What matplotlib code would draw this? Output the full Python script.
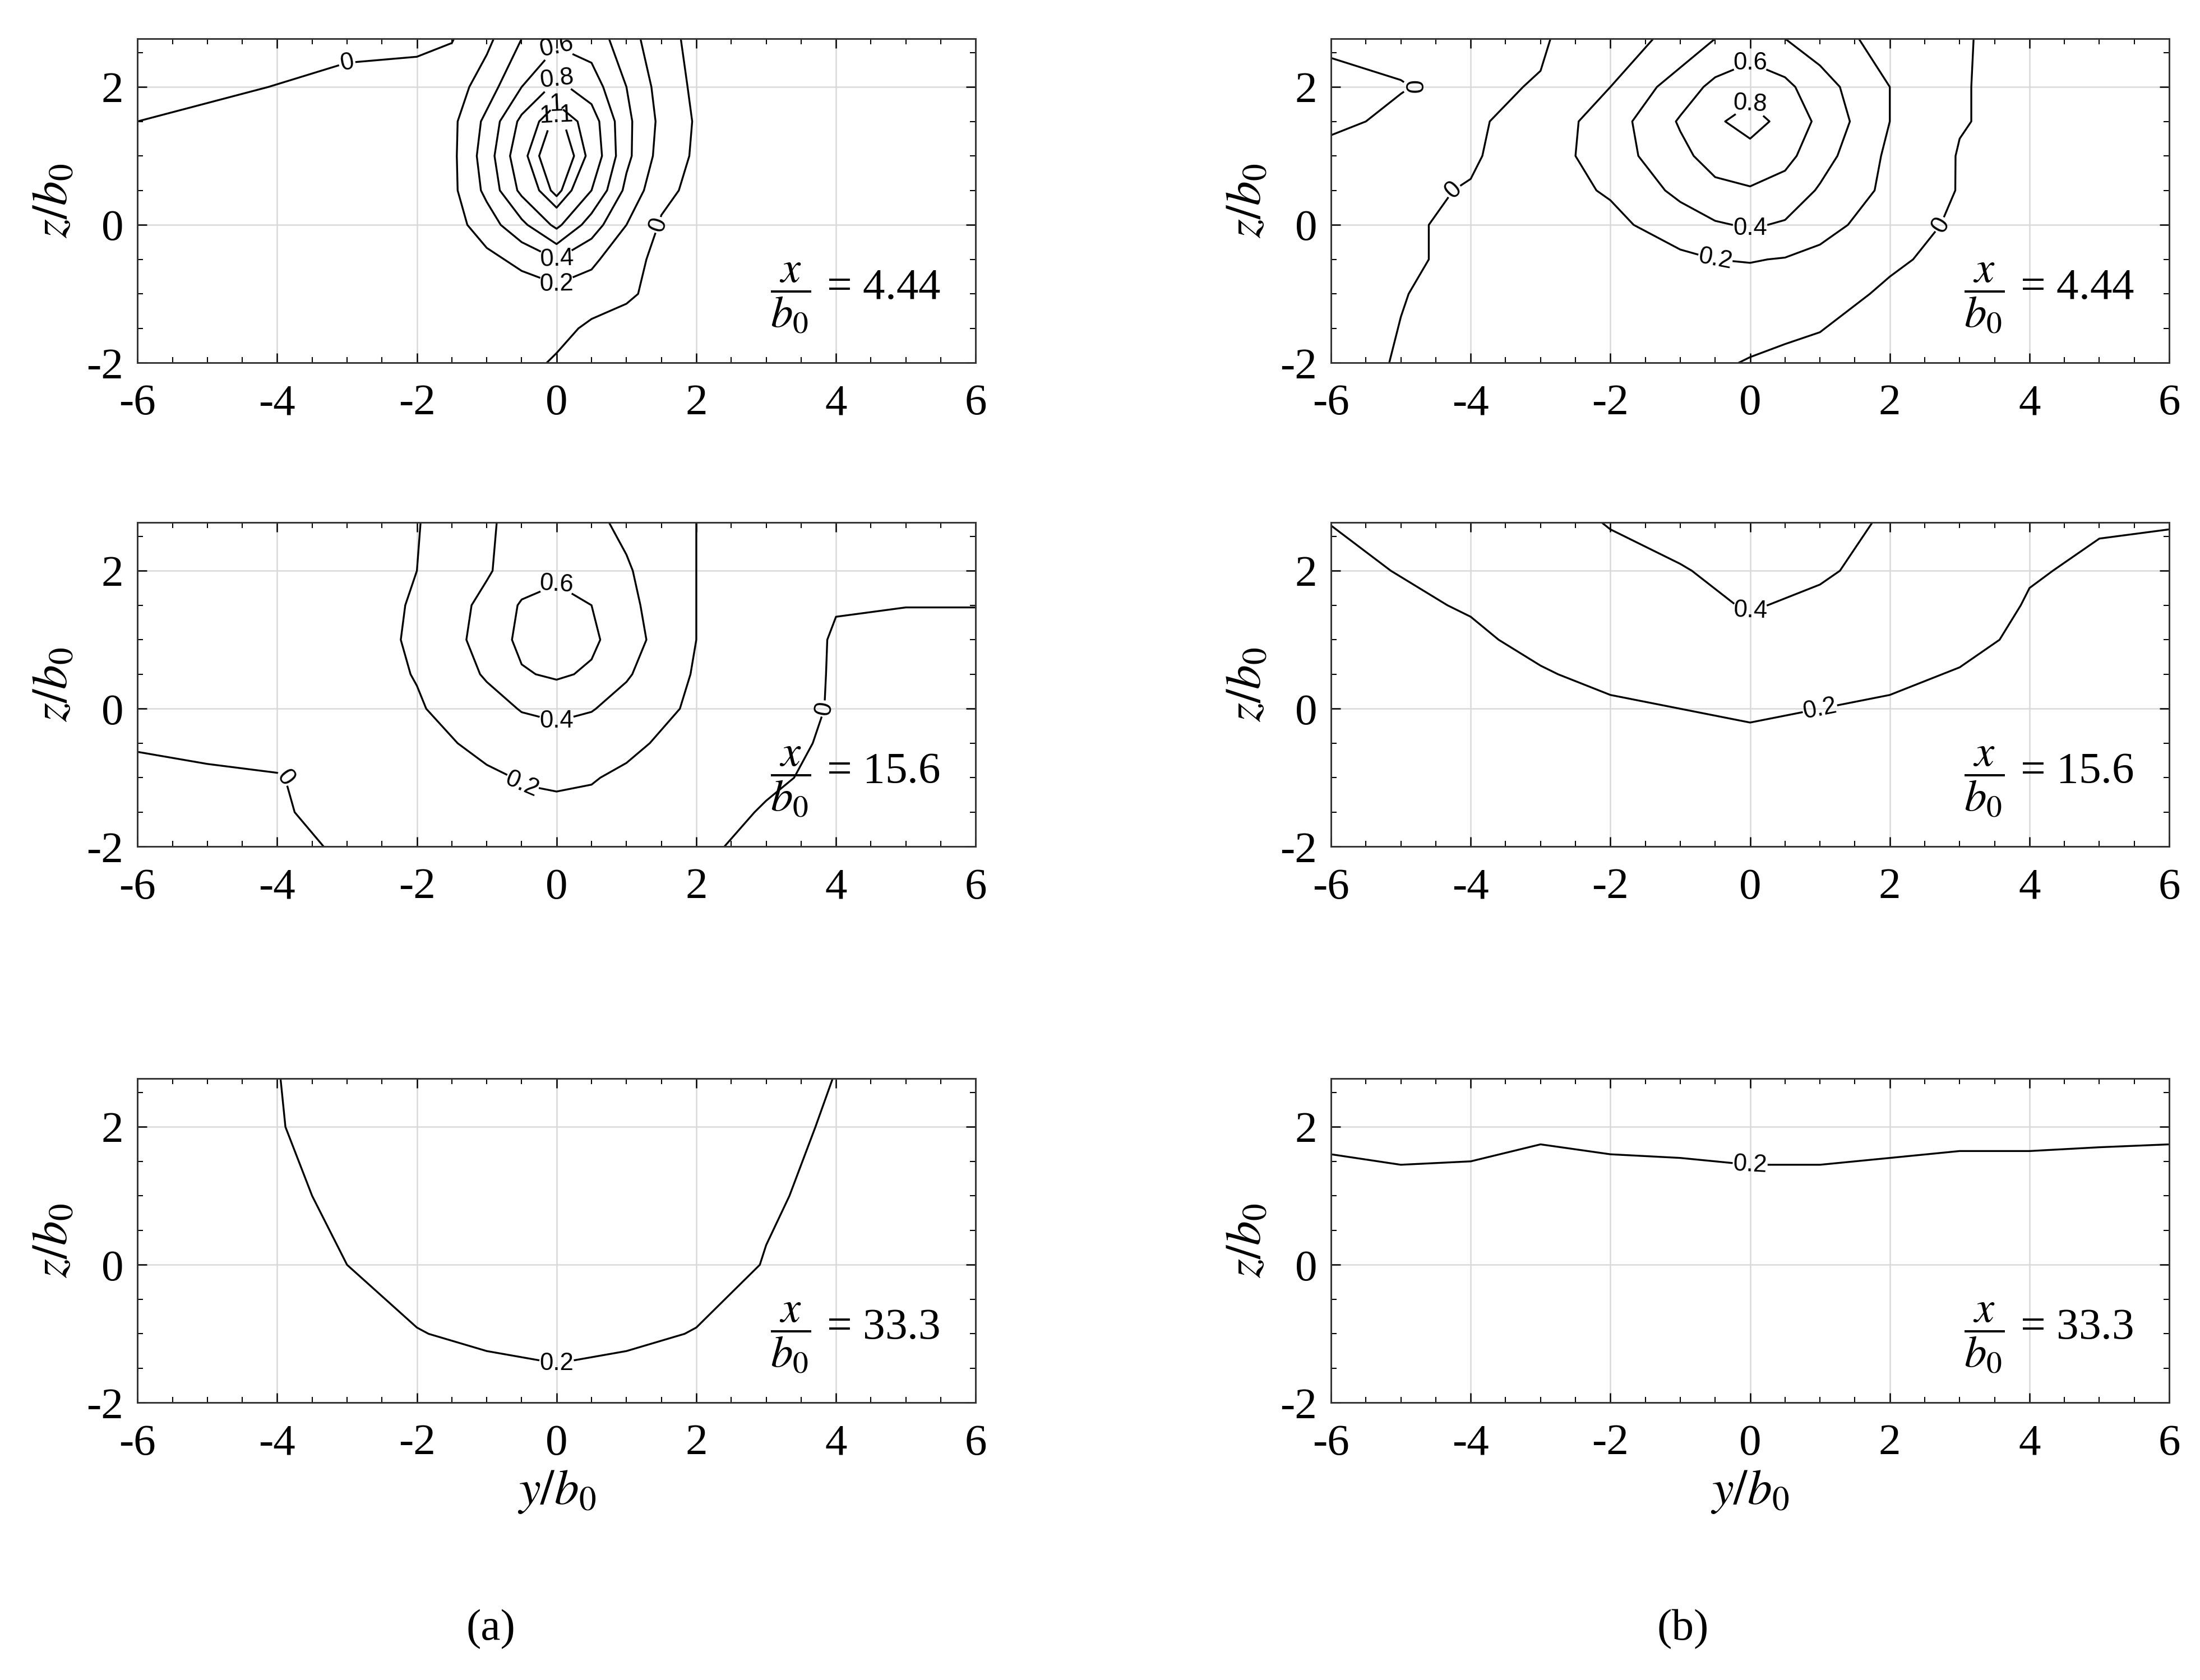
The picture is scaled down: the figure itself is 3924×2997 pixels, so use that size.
import numpy as np
import matplotlib
matplotlib.use("Agg")
from matplotlib import pyplot as plt
from matplotlib.ticker import MultipleLocator

plt.rcParams["font.family"] = "Liberation Serif"
plt.rcParams["mathtext.fontset"] = "stix"
plt.rcParams["axes.unicode_minus"] = False

# ---- data (coarse grids, rows = z from bottom up) ----
# (a) x/b0 = 4.44
y_a1 = [-6, -3, -2, -1.5, -1, -0.5, 0, 0.5, 1, 1.5, 2, 4, 6]
z_a1 = [-2, -1.5, -1, -0.5, 0, 0.5, 1, 1.5, 2, 2.7]
v_a1 = [
    [0.05, 0.05, 0.05, 0.05, 0.05, 0.05, -0.02, -0.05, -0.05, -0.05, -0.05, -0.05, -0.05],
    [0.05, 0.05, 0.05, 0.06, 0.08, 0.10, 0.05, -0.03, -0.05, -0.05, -0.05, -0.05, -0.05],
    [0.05, 0.05, 0.05, 0.06, 0.08, 0.10, 0.12, 0.08, 0.02, -0.04, -0.05, -0.05, -0.05],
    [0.05, 0.05, 0.05, 0.08, 0.15, 0.25, 0.40, 0.25, 0.04, -0.03, -0.05, -0.05, -0.05],
    [0.05, 0.05, 0.06, 0.12, 0.30, 0.55, 0.85, 0.50, 0.20, -0.02, -0.05, -0.05, -0.05],
    [0.05, 0.05, 0.07, 0.15, 0.45, 0.85, 1.15, 0.80, 0.35, 0.05, -0.05, -0.05, -0.05],
    [0.05, 0.05, 0.07, 0.15, 0.50, 0.95, 1.25, 0.95, 0.45, 0.12, -0.03, -0.05, -0.05],
    [0.00, 0.05, 0.07, 0.15, 0.45, 0.85, 1.15, 0.90, 0.45, 0.15, -0.02, -0.05, -0.05],
    [-0.05, 0.03, 0.05, 0.10, 0.30, 0.60, 0.85, 0.70, 0.40, 0.12, -0.04, -0.05, -0.05],
    [-0.05, -0.03, -0.03, -0.01, 0.15, 0.40, 0.55, 0.50, 0.30, 0.05, -0.04, -0.05, -0.05],
]

# (b) x/b0 = 4.44
y_b1 = [-6, -5, -4, -3, -2, -1, -0.5, 0, 0.5, 1, 2, 3, 4, 5, 6]
z_b1 = [-2, -1, -0.5, 0, 0.5, 1, 1.5, 2, 2.7]
v_b1 = [
    [-0.05, 0.01, 0.04, 0.05, 0.05, 0.04, 0.02, -0.01, -0.03, -0.04, -0.05, -0.05, -0.05, -0.05, -0.05],
    [-0.05, -0.005, 0.04, 0.06, 0.08, 0.10, 0.11, 0.11, 0.08, 0.05, -0.02, -0.05, -0.05, -0.05, -0.05],
    [-0.05, -0.02, 0.03, 0.06, 0.10, 0.16, 0.20, 0.21, 0.19, 0.14, 0.02, -0.04, -0.05, -0.05, -0.05],
    [-0.05, -0.02, 0.03, 0.08, 0.15, 0.30, 0.38, 0.42, 0.38, 0.28, 0.08, -0.03, -0.05, -0.05, -0.05],
    [-0.05, -0.03, 0.01, 0.12, 0.22, 0.45, 0.55, 0.58, 0.52, 0.38, 0.15, -0.01, -0.05, -0.05, -0.05],
    [-0.03, -0.04, -0.02, 0.10, 0.30, 0.55, 0.68, 0.75, 0.66, 0.48, 0.16, -0.01, -0.05, -0.05, -0.05],
    [0.02, -0.02, -0.03, 0.08, 0.30, 0.62, 0.78, 0.85, 0.76, 0.55, 0.20, 0.01, -0.05, -0.05, -0.05],
    [0.03, 0.005, -0.03, 0.01, 0.20, 0.50, 0.65, 0.75, 0.65, 0.48, 0.20, 0.01, -0.05, -0.05, -0.05],
    [-0.02, -0.03, -0.03, -0.02, 0.12, 0.25, 0.40, 0.45, 0.40, 0.30, 0.12, 0.01, -0.04, -0.05, -0.05],
]

# (a) x/b0 = 15.6
y_a2 = [-6, -5, -4, -3, -2, -1, -0.5, 0, 0.5, 1, 2, 3, 4, 5, 6]
z_a2 = [-2, -1.5, -1, -0.5, 0, 0.5, 1, 1.5, 2, 2.7]
v_a2 = [
    [-0.05, -0.04, -0.02, 0.01, 0.05, 0.10, 0.12, 0.13, 0.12, 0.10, 0.02, -0.03, -0.05, -0.05, -0.05],
    [-0.04, -0.03, -0.01, 0.03, 0.07, 0.13, 0.16, 0.17, 0.16, 0.13, 0.05, -0.01, -0.04, -0.05, -0.05],
    [-0.03, -0.01, -0.005, 0.04, 0.10, 0.17, 0.21, 0.22, 0.21, 0.17, 0.08, 0.02, -0.03, -0.04, -0.05],
    [0.01, 0.015, 0.03, 0.06, 0.13, 0.25, 0.31, 0.33, 0.30, 0.24, 0.12, 0.04, -0.02, -0.04, -0.05],
    [0.02, 0.03, 0.05, 0.09, 0.18, 0.33, 0.41, 0.44, 0.41, 0.33, 0.16, 0.05, -0.01, -0.03, -0.04],
    [0.02, 0.03, 0.06, 0.10, 0.21, 0.42, 0.58, 0.63, 0.57, 0.42, 0.18, 0.06, -0.01, -0.02, -0.03],
    [0.02, 0.03, 0.06, 0.10, 0.23, 0.47, 0.65, 0.70, 0.64, 0.48, 0.20, 0.07, -0.01, -0.03, -0.03],
    [0.02, 0.03, 0.06, 0.10, 0.22, 0.45, 0.62, 0.66, 0.60, 0.45, 0.20, 0.08, 0.005, 0.002, 0.002],
    [0.03, 0.04, 0.06, 0.10, 0.20, 0.38, 0.50, 0.56, 0.52, 0.42, 0.20, 0.08, 0.04, 0.03, 0.03],
    [0.03, 0.04, 0.06, 0.10, 0.19, 0.38, 0.45, 0.47, 0.44, 0.36, 0.20, 0.08, 0.04, 0.03, 0.03],
]

# (b) x/b0 = 15.6
y_b2 = [-6, -4, -3, -2, -1, 0, 1, 2, 3, 4, 5, 6]
z_b2 = [-2, -1, 0, 0.5, 1, 1.5, 2, 2.7]
v_b2 = [
    [0.08, 0.08, 0.08, 0.08, 0.08, 0.08, 0.08, 0.08, 0.08, 0.08, 0.08, 0.08],
    [0.10, 0.11, 0.12, 0.12, 0.12, 0.12, 0.12, 0.12, 0.12, 0.11, 0.10, 0.10],
    [0.10, 0.13, 0.15, 0.18, 0.20, 0.22, 0.20, 0.18, 0.15, 0.13, 0.11, 0.10],
    [0.11, 0.15, 0.19, 0.23, 0.27, 0.29, 0.26, 0.23, 0.19, 0.15, 0.12, 0.11],
    [0.13, 0.18, 0.23, 0.28, 0.32, 0.35, 0.32, 0.29, 0.24, 0.17, 0.14, 0.13],
    [0.15, 0.21, 0.27, 0.31, 0.36, 0.41, 0.37, 0.32, 0.27, 0.19, 0.16, 0.15],
    [0.17, 0.24, 0.30, 0.34, 0.39, 0.45, 0.42, 0.35, 0.29, 0.21, 0.18, 0.17],
    [0.202, 0.27, 0.33, 0.41, 0.46, 0.50, 0.46, 0.38, 0.32, 0.25, 0.21, 0.205],
]

# (a) x/b0 = 33.3
y_a3 = [-6, -4, -3, -2, -1, 0, 1, 2, 3, 4, 6]
z_a3 = [-2, -1, 0, 1, 2, 2.7]
v_a3 = [
    [0.10, 0.12, 0.14, 0.16, 0.17, 0.18, 0.17, 0.16, 0.14, 0.12, 0.10],
    [0.11, 0.14, 0.17, 0.198, 0.21, 0.215, 0.21, 0.198, 0.17, 0.14, 0.11],
    [0.12, 0.16, 0.20, 0.22, 0.235, 0.24, 0.235, 0.22, 0.198, 0.16, 0.12],
    [0.12, 0.19, 0.21, 0.23, 0.245, 0.25, 0.245, 0.23, 0.205, 0.19, 0.12],
    [0.13, 0.198, 0.215, 0.235, 0.25, 0.255, 0.25, 0.235, 0.212, 0.195, 0.13],
    [0.13, 0.199, 0.22, 0.24, 0.255, 0.26, 0.255, 0.24, 0.22, 0.199, 0.13],
]

# (b) x/b0 = 33.3
y_b3 = [-6, -5, -4, -3, -2, -1, 0, 1, 2, 3, 4, 5, 6]
z_b3 = [-2, 0, 1, 2, 2.7]
v_b3 = [
    [0.10] * 13,
    [0.12] * 13,
    [0.15] * 13,
    [0.233, 0.261, 0.25, 0.217, 0.233, 0.241, 0.261, 0.261, 0.241, 0.227, 0.227, 0.221, 0.217],
    [0.27] * 13,
]

levels_a1 = [0, 0.2, 0.4, 0.6, 0.8, 1.0, 1.1]
levels_b1 = [0, 0.2, 0.4, 0.6, 0.8]
levels_2 = [0, 0.2, 0.4, 0.6]
levels_3 = [0.2]

panels = [
    (y_a1, z_a1, v_a1, levels_a1, "4.44"),
    (y_b1, z_b1, v_b1, levels_b1, "4.44"),
    (y_a2, z_a2, v_a2, levels_2, "15.6"),
    (y_b2, z_b2, v_b2, levels_2, "15.6"),
    (y_a3, z_a3, v_a3, levels_3, "33.3"),
    (y_b3, z_b3, v_b3, levels_3, "33.3"),
]

fig = plt.figure(figsize=(13.08, 9.99), dpi=300)
lefts = [0.0625, 0.605]
bottoms = [0.784, 0.496, 0.165]
w, h = 0.381, 0.193

for k, (yy, zz, vv, lev, xl) in enumerate(panels):
    row, col = k // 2, k % 2
    ax = fig.add_axes([lefts[col], bottoms[row], w, h])
    Y, Z = np.meshgrid(yy, zz)
    cs = ax.contour(Y, Z, np.array(vv), levels=lev, colors="black", linewidths=0.8)
    ax.clabel(cs, fmt="%g", fontsize=10.5, inline=True, inline_spacing=4)
    for t in cs.labelTexts:
        t.set_family("Liberation Sans")
    ax.set_xlim(-6, 6)
    ax.set_ylim(-2, 2.7)
    ax.set_xticks([-6, -4, -2, 0, 2, 4, 6])
    ax.set_yticks([-2, 0, 2])
    ax.xaxis.set_minor_locator(MultipleLocator(0.5))
    ax.yaxis.set_minor_locator(MultipleLocator(0.5))
    ax.tick_params(which="both", direction="in", top=True, right=True, labelsize=19)
    ax.tick_params(axis="x", pad=9)
    ax.tick_params(axis="y", pad=6)
    ax.tick_params(which="major", length=4, width=0.6)
    ax.tick_params(which="minor", length=2.5, width=0.5)
    ax.grid(True, which="major", color="#d9d9d9", linewidth=0.6)
    for s in ax.spines.values():
        s.set_linewidth(0.7)
        s.set_color("#333333")
    ax.set_ylabel(r"$z/b_0$", fontsize=21, labelpad=4)
    if row == 2:
        ax.set_xlabel(r"$y/b_0$", fontsize=21, labelpad=2)
    ax.text(0.755, 0.2, r"$\dfrac{x}{b_0}$ = " + xl, transform=ax.transAxes,
            fontsize=19, va="center", ha="left")

fig.text(0.223, 0.024, "(a)", fontsize=19, ha="center")
fig.text(0.765, 0.024, "(b)", fontsize=19, ha="center")
fig.savefig("out.png", dpi=300)
